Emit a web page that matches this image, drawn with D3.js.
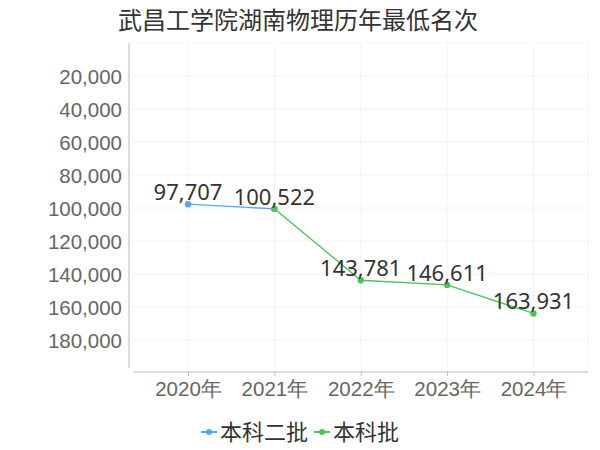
<!DOCTYPE html>
<html>
<head>
<meta charset="utf-8">
<script src="https://cdn.jsdelivr.net/npm/d3@7"></script>
<style>
    body { margin: 0; background: #fff; }
    svg { font-family: "Noto Sans", "Noto Sans CJK SC", sans-serif; }
</style>
</head>
<body>
<svg id="chart" width="600" height="450"></svg>
<script>
const years = ["2020年", "2021年", "2022年", "2023年", "2024年"];
const yTicks = [20000, 40000, 60000, 80000, 100000, 120000, 140000, 160000, 180000];
const erpiValues = [97707, 100522, null, null, null];
const yipiValues = [null, 100522, 143781, 146611, 163931];
const seriesNames = ["本科二批", "本科批"];
const seriesColors = ["#4fa7f8", "#4cc25c"];

const svg = d3.select("#chart");

// scales
const x = d3.scalePoint().domain(years).range([188, 533.5]);
const y = d3.scaleLinear().domain([0, 200000]).range([43, 373]);

// title
svg.append("text")
    .attr("x", 298).attr("y", 29)
    .attr("text-anchor", "middle")
    .style("font-size", "24px")
    .attr("fill", "#333")
    .text("武昌工学院湖南物理历年最低名次");

// grid
const grid = svg.append("g");
grid.selectAll("line.h").data(yTicks).join("line")
    .attr("x1", 130).attr("x2", 588)
    .attr("y1", d => y(d)).attr("y2", d => y(d))
    .attr("stroke", "#f2f2f2");
grid.selectAll("line.v").data(years).join("line")
    .attr("x1", d => x(d)).attr("x2", d => x(d))
    .attr("y1", 43).attr("y2", 368)
    .attr("stroke", "#f2f2f2");
grid.append("line")
    .attr("x1", 588).attr("x2", 588).attr("y1", 43).attr("y2", 368)
    .attr("stroke", "#f2f2f2");
grid.append("line")
    .attr("x1", 130).attr("x2", 588).attr("y1", 43).attr("y2", 43)
    .attr("stroke", "#f6f6f6");

// y axis
const yAxis = svg.append("g")
    .attr("transform", "translate(129,0)")
    .call(d3.axisLeft(y).tickValues(yTicks).tickSize(0).tickPadding(7)
        .tickFormat(d3.format(",")));
yAxis.select(".domain").remove();
yAxis.append("line").attr("x1", 0).attr("x2", 0).attr("y1", 43).attr("y2", 368)
    .attr("stroke", "#bbb");
yAxis.selectAll("text").style("font-size", "20.5px").attr("fill", "#666")
    .attr("dy", "0.36em");

// x axis
const xAxis = svg.append("g")
    .attr("transform", "translate(0,372)")
    .call(d3.axisBottom(x).tickSize(4).tickPadding(5));
xAxis.select(".domain").remove();
xAxis.append("line").attr("x1", 133).attr("x2", 588).attr("stroke", "#bbb");
xAxis.selectAll(".tick line").attr("stroke", "#bbb");
xAxis.selectAll("text").style("font-size", "20.5px").attr("fill", "#666");

// lines
const line = d3.line()
    .defined(d => d.v != null)
    .x(d => x(d.k)).y(d => y(d.v));

const series = [erpiValues, yipiValues].map((vals, i) => ({
    name: seriesNames[i],
    color: seriesColors[i],
    points: years.map((k, j) => ({ k, v: vals[j] }))
}));

series.forEach(s => {
    svg.append("path")
        .datum(s.points)
        .attr("d", line)
        .attr("fill", "none")
        .attr("stroke", s.color)
        .attr("stroke-width", 1.3);
    svg.append("g").selectAll("circle")
        .data(s.points.filter(d => d.v != null))
        .join("circle")
        .attr("cx", d => x(d.k)).attr("cy", d => y(d.v))
        .attr("r", 3.2)
        .attr("fill", s.color);
});

// labels (one per category)
const labelPoints = years.map((k, j) => ({ k, v: erpiValues[j] != null ? erpiValues[j] : yipiValues[j] }));
svg.append("g").selectAll("text")
    .data(labelPoints)
    .join("text")
    .attr("x", d => x(d.k)).attr("y", d => y(d.v) - 4)
    .attr("text-anchor", "middle")
    .style("font-size", "22px")
    .attr("fill", "#333")
    .text(d => d3.format(",")(d.v));

// legend
const legendX = [201, 314];
const legend = svg.append("g");
series.forEach((s, i) => {
    const g = legend.append("g").attr("transform", `translate(${legendX[i]},432)`);
    g.append("line").attr("x1", 0).attr("x2", 16).attr("stroke", s.color).attr("stroke-width", 2);
    g.append("circle").attr("cx", 8).attr("r", 3).attr("fill", s.color);
    g.append("text").attr("x", 19).attr("dy", "0.36em")
        .style("font-size", "22px").attr("fill", "#333").text(s.name);
});
</script>
</body>
</html>
